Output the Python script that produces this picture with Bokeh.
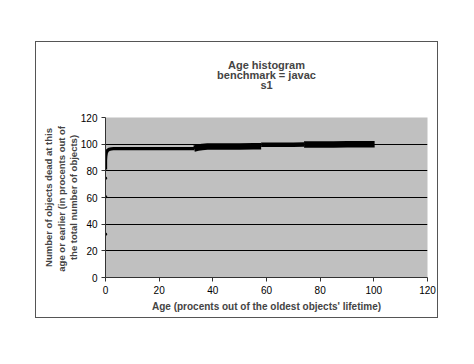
from bokeh.plotting import figure
from bokeh.models import Range1d, FixedTicker, Title
from bokeh.embed import file_html
from bokeh.resources import INLINE

# Data (cumulative % of dead objects vs. age %)
age = [0, 0, 0.1, 0.3, 0.7, 1.3, 2.2, 3, 5, 10, 20, 30, 33,
       34.5, 36, 38, 40, 45, 50, 55, 58,
       58, 62, 66, 70, 74,
       74, 80, 85, 90, 95, 100.3]
pct = [81, 88, 91, 93.5, 95.2, 96.1, 96.5, 96.6, 96.6, 96.6, 96.6, 96.6, 96.7,
       97.4, 97.9, 98.2, 98.3, 98.3, 98.3, 98.4, 98.5,
       99.5, 99.6, 99.6, 99.6, 99.7,
       99.7, 99.8, 99.8, 99.9, 99.9, 100.0]
iso_age = [0, 0, 0]
iso_pct = [32.5, 60.5, 74.5]
ticks = [0, 20, 40, 60, 80, 100, 120]
grid_ticks = [20, 40, 60, 80, 100]

title_lines = ["Age histogram", "benchmark = javac", "s1"]
ylabel_lines = ["Number of objects dead at this",
                "age or earlier  (in procents out of",
                "the total number of objects)"]
xlabel = "Age (procents out of the oldest objects' lifetime)"

FONT = "Liberation Sans"

p = figure(width=403, height=277, output_backend="svg", toolbar_location=None,
           x_range=Range1d(0, 120), y_range=Range1d(0, 120),
           min_border_left=69, min_border_right=12, min_border_top=75, min_border_bottom=42,
           margin=(41, 0, 0, 35),
           styles={"border": "1px solid #555555"})
p.background_fill_color = "#C0C0C0"
p.border_fill_color = "white"
p.outline_line_color = None

for ax in (p.xaxis[0], p.yaxis[0]):
    ax.ticker = FixedTicker(ticks=ticks)
    ax.axis_line_color = "#333333"
    ax.major_tick_line_color = "#333333"
    ax.major_tick_out = 4
    ax.major_tick_in = 0
    ax.minor_tick_line_color = None
    ax.major_label_text_font = FONT
    ax.major_label_text_font_size = "10px"
    ax.major_label_text_color = "black"

p.xaxis.major_label_standoff = 4
p.yaxis.major_label_standoff = 4
p.yaxis.axis_label_standoff = 0
p.xaxis.axis_label = xlabel
p.xaxis.axis_label_text_font = FONT
p.xaxis.axis_label_text_font_style = "bold"
p.xaxis.axis_label_text_font_size = "10px"
p.xaxis.axis_label_standoff = 4

p.xgrid.grid_line_color = None
p.ygrid.grid_line_color = "black"
p.ygrid.grid_line_width = 1
p.ygrid.ticker = FixedTicker(ticks=grid_ticks)

# the curve, drawn in segments whose marker band differs in thickness
segments = [(0, 13, 3.3), (12, 21, 6.5), (21, 26, 4.5), (26, len(age), 6.5)]
for a, b, w in segments:
    p.line(age[a:b], pct[a:b], line_color="black", line_width=w, line_join="round")
p.scatter(iso_age, iso_pct, size=2.5, color="black")

# title: white spacer then three lines, stacked outward from the frame
p.add_layout(Title(text=".", text_color="white", standoff=19, text_font=FONT,
                   text_font_size="11px"), "above")
for t in reversed(title_lines):
    p.add_layout(Title(text=t, align="center", offset=-32, standoff=-4,
                       text_font=FONT, text_font_style="bold", text_font_size="11px"), "above")

# y label: three lines, stacked outward from the axis
for i, t in enumerate(reversed(ylabel_lines)):
    p.add_layout(Title(text=t, align="center", standoff=(-2 if i == 0 else 0),
                       text_font=FONT, text_font_style="bold", text_font_size="9.5px"), "left")

open("out.html", "w").write(file_html(p, INLINE))
